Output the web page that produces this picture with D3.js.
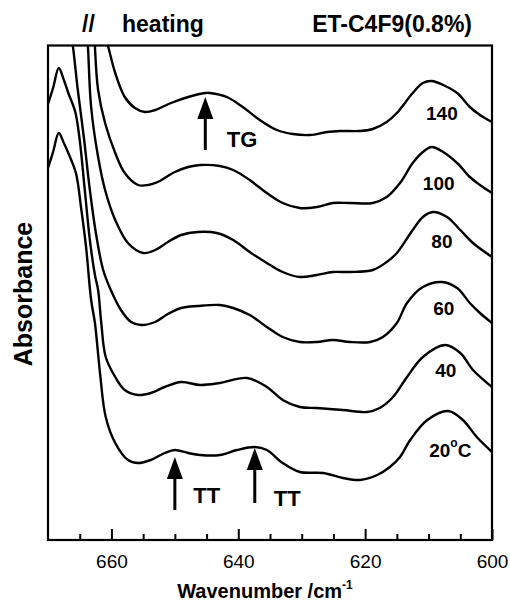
<!DOCTYPE html>
<html><head><meta charset="utf-8">
<script src="https://cdn.jsdelivr.net/npm/d3@7"></script>
<style>
html,body{margin:0;padding:0;background:#fff;}
svg{display:block;}
text{font-family:Arial,"Liberation Sans",Helvetica,sans-serif;fill:#000;}
</style></head>
<body><div id="chart"></div>
<script>
// ---- data ----
const temps = ["140", "100", "80", "60", "40", "20"];

const wn_140 = [661.3,660.5,659.4,657.9,656.3,654.7,653.1,650.6,647.9,645.2,644.5,641.8,639.3,636.6,633.9,631.4,628.7,626.0,624.0,620.8,618.8,616.6,615.0,612.5,610.9,609.5,607.7,605.5,603.5,601.9,600.0];
const a_140  = [1.020,0.986,0.934,0.886,0.864,0.856,0.860,0.874,0.886,0.894,0.894,0.886,0.866,0.840,0.820,0.812,0.810,0.816,0.818,0.818,0.822,0.836,0.854,0.894,0.914,0.918,0.910,0.894,0.866,0.850,0.836];

const wn_100 = [662.7,662.6,662.1,661.0,659.4,657.9,655.8,654.2,652.7,650.0,647.9,646.0,642.9,640.8,638.2,635.5,633.0,630.3,627.6,625.1,622.4,618.8,616.6,614.5,612.5,610.9,609.5,607.7,605.5,603.5,601.9,600.0];
const a_100  = [1.020,0.986,0.900,0.834,0.774,0.734,0.710,0.710,0.716,0.736,0.746,0.750,0.748,0.740,0.720,0.694,0.674,0.664,0.666,0.674,0.674,0.674,0.686,0.714,0.754,0.776,0.786,0.776,0.754,0.726,0.710,0.694];

const wn_80 = [663.9,663.7,663.2,662.1,661.0,659.4,657.4,655.0,653.1,651.1,649.0,646.4,643.4,640.8,638.2,635.5,633.0,630.3,627.6,625.1,622.4,618.8,616.6,615.0,612.5,610.9,609.3,607.1,605.0,603.0,600.0];
const a_80  = [1.020,0.986,0.866,0.766,0.700,0.640,0.594,0.574,0.580,0.596,0.610,0.616,0.614,0.600,0.576,0.554,0.536,0.526,0.530,0.536,0.536,0.540,0.556,0.574,0.620,0.646,0.656,0.646,0.620,0.594,0.566];

const wn_60 = [666.5,666.1,665.3,664.3,663.4,662.4,661.3,660.1,658.5,656.9,655.3,653.1,651.1,649.0,646.4,642.9,640.8,638.2,635.5,633.0,630.3,627.6,625.1,622.4,619.2,617.2,615.0,613.4,610.9,607.9,605.5,603.5,601.9,600.0];
const a_60  = [1.020,0.990,0.900,0.800,0.700,0.610,0.540,0.500,0.460,0.436,0.430,0.436,0.452,0.464,0.468,0.470,0.464,0.450,0.426,0.406,0.396,0.396,0.400,0.396,0.396,0.406,0.434,0.474,0.506,0.516,0.504,0.474,0.454,0.434];

const wn_40 = [670.0,669.2,668.3,667.5,666.8,665.7,665.0,664.2,663.4,662.6,662.1,661.6,660.9,659.4,657.9,655.8,653.8,651.6,649.0,646.0,642.9,638.6,635.5,633.0,630.3,627.6,623.5,619.7,617.7,615.6,613.4,610.9,607.4,605.0,603.0,600.0];
const a_40  = [0.872,0.904,0.944,0.920,0.894,0.856,0.800,0.700,0.600,0.530,0.500,0.434,0.366,0.326,0.300,0.290,0.294,0.306,0.316,0.310,0.314,0.324,0.306,0.280,0.266,0.264,0.260,0.256,0.264,0.286,0.326,0.366,0.390,0.374,0.340,0.306];

const wn_20 = [670.0,669.2,668.3,667.5,666.8,665.6,664.8,664.0,663.2,662.6,661.8,660.9,659.4,657.4,655.8,653.8,651.6,650.0,647.9,646.0,642.9,640.2,637.4,635.5,633.0,630.3,626.6,623.5,620.8,618.1,616.1,614.5,612.9,610.2,606.9,604.6,602.4,600.0];
const a_20  = [0.744,0.776,0.814,0.794,0.774,0.734,0.666,0.586,0.480,0.434,0.334,0.246,0.194,0.160,0.154,0.160,0.174,0.180,0.174,0.170,0.170,0.180,0.186,0.180,0.154,0.136,0.134,0.124,0.120,0.130,0.146,0.166,0.200,0.240,0.258,0.240,0.206,0.176];

const labelWn = [607.9, 608.4, 607.9, 607.6, 607.3, 609.9];
const labelA  = [0.840, 0.700, 0.584, 0.450, 0.326, 0.166];

const arrowNames  = ["TG", "TT", "TT"];
const arrowWn     = [645.2, 650.0, 637.4];
const arrowTipA   = [0.886, 0.166, 0.184];
const arrowBaseA  = [0.780, 0.060, 0.074];
const arrowLabWn  = [641.8, 647.1, 634.4];
const arrowLabA   = [0.786, 0.074, 0.068];

const majorTicks = [660, 640, 620, 600];
const minorTicks = [665, 655, 650, 645, 635, 630, 625, 615, 610, 605];

// ---- drawing ----
const W = 510, H = 603;
const L = 48, R = 492, T = 45.5, B = 540;

const svg = d3.select("#chart").append("svg").attr("width", W).attr("height", H);
svg.append("rect").attr("width", W).attr("height", H).attr("fill", "#fff");

const x = d3.scaleLinear().domain([670, 600]).range([L, R]);
const y = d3.scaleLinear().domain([0, 0.99]).range([B, 45]);

svg.append("clipPath").attr("id", "clip").append("rect")
  .attr("x", L).attr("y", T).attr("width", R - L).attr("height", B - T);

const series = [
  [wn_140, a_140], [wn_100, a_100], [wn_80, a_80],
  [wn_60, a_60], [wn_40, a_40], [wn_20, a_20]
];

const line = d3.line()
  .x(d => x(d[0])).y(d => y(d[1]))
  .curve(d3.curveCatmullRom.alpha(0.5));

const g = svg.append("g").attr("clip-path", "url(#clip)");
series.forEach(([wn, a]) => {
  const pts = d3.zip(wn, a);
  g.append("path").datum(pts).attr("d", line)
    .attr("fill", "none").attr("stroke", "#000")
    .attr("stroke-width", 2.4).attr("stroke-linejoin", "round");
});

// frame
svg.append("rect").attr("x", L).attr("y", T).attr("width", R - L).attr("height", B - T)
  .attr("fill", "none").attr("stroke", "#000").attr("stroke-width", 2.2);

// axes (ticks inward)
const axMajor = d3.axisBottom(x).tickValues(majorTicks).tickSizeInner(-11).tickSizeOuter(0)
  .tickPadding(14.5).tickFormat(d3.format("d"));
const gMaj = svg.append("g").attr("transform", `translate(0,${B})`).call(axMajor);
gMaj.select(".domain").remove();
gMaj.selectAll("line").attr("stroke", "#000").attr("stroke-width", 2);
gMaj.selectAll("text").style("font-family", "Arial, 'Liberation Sans', sans-serif")
  .style("font-size", "19px").attr("fill", "#000");

const axMinor = d3.axisBottom(x).tickValues(minorTicks).tickSizeInner(-6).tickSizeOuter(0)
  .tickFormat("");
const gMin = svg.append("g").attr("transform", `translate(0,${B})`).call(axMinor);
gMin.select(".domain").remove();
gMin.selectAll("line").attr("stroke", "#000").attr("stroke-width", 2);

// axis titles
const xl = svg.append("text").attr("x", 265).attr("y", 598).attr("text-anchor", "middle")
  .style("font-size", "20px").style("font-weight", "bold");
xl.append("tspan").text("Wavenumber /cm");
xl.append("tspan").attr("dy", -9).style("font-size", "12px").text("-1");

svg.append("text").attr("transform", "translate(32,294) rotate(-90)")
  .attr("text-anchor", "middle").style("font-size", "25px").style("font-weight", "bold")
  .text("Absorbance");

// title texts
svg.append("text").attr("x", 82).attr("y", 32).style("font-size", "23px").style("font-weight", "bold").text("//");
svg.append("text").attr("x", 122).attr("y", 32).style("font-size", "23px").style("font-weight", "bold").text("heating");
svg.append("text").attr("x", 472).attr("y", 32).attr("text-anchor", "end")
  .style("font-size", "23px").style("font-weight", "bold").text("ET-C4F9(0.8%)");

// temperature labels
temps.forEach((t, i) => {
  const tx = svg.append("text").attr("x", x(labelWn[i])).attr("y", y(labelA[i]))
    .style("font-size", "19px").style("font-weight", "bold");
  if (t === "20") {
    tx.attr("text-anchor", "start");
    tx.append("tspan").text("20");
    tx.append("tspan").attr("dy", -10).style("font-size", "12px").text("o");
    tx.append("tspan").attr("dy", 10).text("C");
  } else {
    tx.attr("text-anchor", "middle").text(t);
  }
});

// arrows
arrowNames.forEach((nm, i) => {
  const ax = x(arrowWn[i]), ty = y(arrowTipA[i]), by = y(arrowBaseA[i]);
  svg.append("line").attr("x1", ax).attr("x2", ax).attr("y1", ty + 18).attr("y2", by)
    .attr("stroke", "#000").attr("stroke-width", 3);
  svg.append("path").attr("d", `M${ax},${ty} L${ax - 8},${ty + 22} L${ax + 8},${ty + 22} Z`)
    .attr("fill", "#000");
  svg.append("text").attr("x", x(arrowLabWn[i])).attr("y", y(arrowLabA[i]))
    .style("font-size", "22px").style("font-weight", "bold").text(nm);
});
</script>
</body></html>
